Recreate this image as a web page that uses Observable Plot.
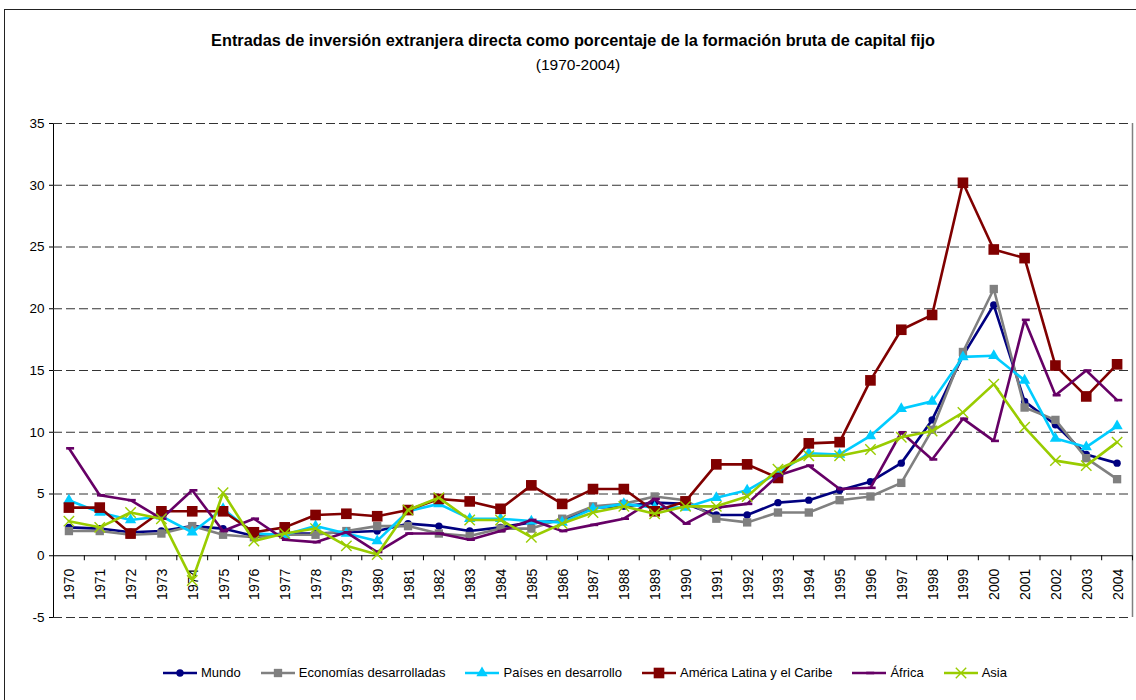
<!DOCTYPE html>
<html><head><meta charset="utf-8">
<script src="https://cdn.jsdelivr.net/npm/d3@7"></script>
<script src="https://cdn.jsdelivr.net/npm/@observablehq/plot@0.6"></script>
<style>
body{margin:0;background:#fff;font-family:"Liberation Sans",Arial,sans-serif;color:#000;}
#frame{position:absolute;left:4px;top:9px;width:1140px;height:700px;border:1.5px solid #222;box-sizing:border-box;}
#title{position:absolute;left:10px;width:1126px;top:31px;text-align:center;font-weight:bold;font-size:16.3px;line-height:18px;}
#subtitle{position:absolute;left:20px;width:1116px;top:56px;text-align:center;font-size:15.5px;line-height:18px;}
#chart{position:absolute;left:0;top:100px;}
#legend{position:absolute;top:665px;left:22px;width:1126px;display:flex;justify-content:center;align-items:center;font-size:13px;line-height:16px;}
.item{display:flex;align-items:center;margin:0 10px;}
.item svg{margin-right:4px;}
</style></head>
<body>
<div id="frame"></div>
<div id="title">Entradas de inversión extranjera directa como porcentaje de la formación bruta de capital fijo</div>
<div id="subtitle">(1970-2004)</div>
<div id="chart"></div>
<div id="legend"></div>
<script>
const years = [1970,1971,1972,1973,1974,1975,1976,1977,1978,1979,1980,1981,1982,1983,1984,1985,1986,1987,1988,1989,1990,1991,1992,1993,1994,1995,1996,1997,1998,1999,2000,2001,2002,2003,2004];
const seriesNames = ["Mundo","Economías desarrolladas","Países en desarrollo","América Latina y el Caribe","África","Asia"];
const mundo = [2.3,2.2,1.9,2.0,2.4,2.2,1.6,1.8,1.8,1.9,2.0,2.6,2.4,2.0,2.3,2.7,2.8,3.9,4.0,4.3,4.2,3.3,3.3,4.3,4.5,5.3,6.0,7.5,11.0,16.2,20.3,12.5,10.6,8.2,7.5];
const desarrolladas = [2.0,2.0,1.7,1.8,2.4,1.7,1.5,1.7,1.7,2.0,2.4,2.4,1.8,1.6,2.2,2.2,3.0,4.0,4.2,4.8,4.5,3.0,2.7,3.5,3.5,4.5,4.8,5.9,10.2,16.5,21.6,12.0,11.0,7.9,6.2];
const enDesarrollo = [4.5,3.5,2.9,3.2,1.9,3.8,1.8,1.7,2.4,1.8,1.2,3.6,4.2,3.0,3.0,2.8,2.7,3.8,4.2,3.9,3.9,4.7,5.3,6.7,8.3,8.2,9.7,11.9,12.5,16.1,16.2,14.2,9.5,8.8,10.5];
const americaLatina = [3.9,3.9,1.8,3.6,3.6,3.6,1.9,2.3,3.3,3.4,3.2,3.7,4.6,4.4,3.8,5.7,4.2,5.4,5.4,3.6,4.4,7.4,7.4,6.3,9.1,9.2,14.2,18.3,19.5,30.2,24.8,24.1,15.4,12.9,15.5];
const africa = [8.7,4.9,4.5,3.0,5.3,2.0,3.0,1.3,1.1,1.9,0.3,1.8,1.8,1.3,2.0,2.9,2.0,2.5,3.0,4.6,2.6,3.9,4.2,6.5,7.3,5.4,5.5,10.0,7.8,11.1,9.3,19.1,13.0,15.0,12.6];
const asia = [2.8,2.3,3.5,3.0,-2.0,5.1,1.2,1.8,2.2,0.8,0.1,3.7,4.7,2.9,2.9,1.5,2.6,3.5,4.0,3.4,4.0,4.0,4.8,7.0,8.1,8.1,8.6,9.6,10.1,11.6,13.9,10.4,7.7,7.3,9.2];
const yTicks = [-5,0,5,10,15,20,25,30,35];

const dashSymbol = {draw(ctx, size){ const w = Math.sqrt(size)/2; ctx.moveTo(-w*0.7,0); ctx.lineTo(w*1.3,0); }};
const styles = [
  {color:"#000080", symbol:"circle", r:3.7, filled:true, sw:2.6},
  {color:"#808080", symbol:"square", r:4.7, filled:true, sw:2.6},
  {color:"#00CCFF", symbol:"triangle", r:4.2, filled:true, sw:2.6},
  {color:"#800000", symbol:"square", r:6.0, filled:true, sw:2.6},
  {color:"#660066", symbol:dashSymbol, r:4.5, filled:false, sw:2.6, msw:2.6},
  {color:"#99CC00", symbol:"times", r:4.8, filled:false, sw:2.6, msw:1.4}
];
const seriesValues = [mundo, desarrolladas, enDesarrollo, americaLatina, africa, asia];
const rows = seriesValues.map((vals, s) => years.map((yr, i) => ({series: seriesNames[s], year: yr, value: vals[i]})));

const boundaries = years.map(y => y - 0.5).concat([years[years.length-1] + 0.5]);
const gridVals = yTicks.filter(v => v !== 0);

const seriesMarks = rows.flatMap((data, s) => {
  const st = styles[s];
  return [
    Plot.line(data, {x:"year", y:"value", stroke: st.color, strokeWidth: st.sw, strokeLinejoin:"miter"}),
    Plot.dot(data, {x:"year", y:"value", symbol: st.symbol, r: st.r,
      fill: st.filled ? st.color : "none", stroke: st.filled ? "none" : st.color, strokeWidth: st.msw || 1})
  ];
});

const chart = Plot.plot({
  width: 1136, height: 540,
  marginTop: 23, marginBottom: 23, marginLeft: 53, marginRight: 4,
  style: {fontFamily: "Liberation Sans, Arial, sans-serif", fontSize: "13.5px", background: "transparent", color: "#000", overflow: "visible"},
  x: {type: "linear", domain: [years[0] - 0.5, years[years.length-1] + 0.5], axis: null},
  y: {domain: [yTicks[0], yTicks[yTicks.length-1]], ticks: yTicks, tickFormat: d => String(d), tickSize: 4, tickPadding: 5, line: true, label: null},
  marks: [
    Plot.ruleY(gridVals, {stroke: "#333", strokeDasharray: "9,4", strokeWidth: 1}),
    Plot.ruleX([years[years.length-1] + 0.5], {stroke: "#808080", strokeWidth: 1.5}),
    Plot.ruleY([0], {stroke: "#000", strokeWidth: 1}),
    Plot.ruleX(boundaries, {y1: 0, y2: 0, insetBottom: -5, stroke: "#000"}),
    Plot.text(years, {x: d => d, y: 0, text: d => String(d), rotate: -90, textAnchor: "end", dy: 13, dx: 1, fontSize: 14}),
    ...seriesMarks
  ]
});
document.getElementById("chart").appendChild(chart);

// legend
const legend = document.getElementById("legend");
seriesNames.forEach((name, s) => {
  const st = styles[s];
  const item = document.createElement("div");
  item.className = "item";
  const svg = d3.create("svg").attr("width", 34).attr("height", 14);
  svg.append("line").attr("x1", 0).attr("x2", 34).attr("y1", 7).attr("y2", 7).attr("stroke", st.color).attr("stroke-width", 2.6);
  const symMap = {circle: d3.symbolCircle, square: d3.symbolSquare, triangle: d3.symbolTriangle, times: d3.symbolTimes};
  const type = typeof st.symbol === "string" ? symMap[st.symbol] : st.symbol;
  svg.append("path").attr("transform", "translate(17,7)")
    .attr("d", d3.symbol(type, st.r * st.r * Math.PI)())
    .attr("fill", st.filled ? st.color : "none")
    .attr("stroke", st.filled ? "none" : st.color)
    .attr("stroke-width", st.msw || 1);
  item.appendChild(svg.node());
  const span = document.createElement("span");
  span.textContent = name;
  item.appendChild(span);
  legend.appendChild(item);
});
</script>
</body></html>
